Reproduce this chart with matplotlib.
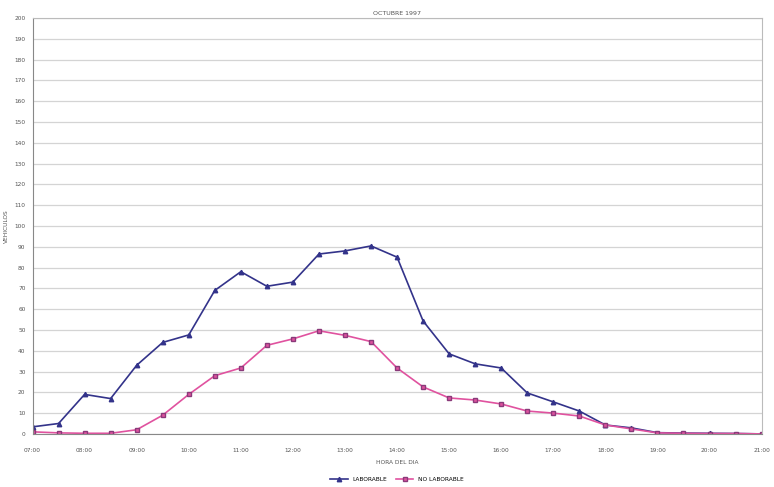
import numpy as np
import matplotlib
matplotlib.use("Agg")
from matplotlib import pyplot as plt

# half-hour slots from 07:00 to 21:00
horas = ["07:00", "07:30", "08:00", "08:30", "09:00", "09:30", "10:00", "10:30",
         "11:00", "11:30", "12:00", "12:30", "13:00", "13:30", "14:00", "14:30",
         "15:00", "15:30", "16:00", "16:30", "17:00", "17:30", "18:00", "18:30",
         "19:00", "19:30", "20:00", "20:30", "21:00"]
laborable = [3.4, 5, 19, 17, 33, 44, 47.6, 69, 78, 71, 73, 86.5, 88, 90.4, 85,
             54.3, 38.5, 33.7, 31.7, 19.7, 15.4, 11, 4.3, 2.9, 0.6, 0.4, 0.3, 0.2, 0]
no_laborable = [1, 0.5, 0.3, 0.3, 2, 9, 19, 28, 31.7, 42.6, 45.7, 49.6, 47.4, 44.4,
                31.7, 22.6, 17.3, 16.3, 14.4, 11, 10, 8.6, 4.3, 2.4, 0.5, 0.3, 0.2, 0.2, 0]
etiquetas_x = horas[::2]
y_ticks = list(range(0, 201, 10))

fig = plt.figure(figsize=(7.74, 4.87), dpi=100)
ax = fig.add_axes([0.042, 0.109, 0.942, 0.854])

x = np.arange(len(horas))
ax.plot(x, laborable, color="#33338a", lw=1.2, marker="^", ms=3.2, label="LABORABLE")
ax.plot(x, no_laborable, color="#e0529f", lw=1.2, marker="s", ms=2.8,
        mec="#8a3a7a", label="NO LABORABLE")

ax.set_xlim(0, len(horas) - 1)
ax.set_ylim(0, 200)
ax.set_yticks(y_ticks)
ax.set_yticklabels([str(v) for v in y_ticks], fontsize=4.2, color="#555555")
ax.set_xticks(x[::2])
ax.set_xticklabels(etiquetas_x, fontsize=4.2, color="#555555")
ax.tick_params(axis="x", length=0, pad=10)
ax.tick_params(axis="y", length=0, pad=5)
ax.grid(axis="y", color="#d4d4d4", lw=0.9)
ax.set_axisbelow(True)
for s in ["top", "right"]:
    ax.spines[s].set_color("#bbbbbb")
ax.spines["left"].set_color("#888888")
ax.spines["bottom"].set_color("#888888")

ax.set_title("OCTUBRE 1997", fontsize=4.5, color="#555555", pad=2)
ax.set_xlabel("HORA DEL DIA", fontsize=4.2, color="#555555", labelpad=5)
ax.set_ylabel("VEHICULOS", fontsize=4.2, color="#555555", labelpad=4)

ax.legend(loc="upper center", bbox_to_anchor=(0.5, -0.09), ncol=2, frameon=False,
          fontsize=4.2, handlelength=3, columnspacing=1.5)

fig.savefig("out.png", dpi=100)
